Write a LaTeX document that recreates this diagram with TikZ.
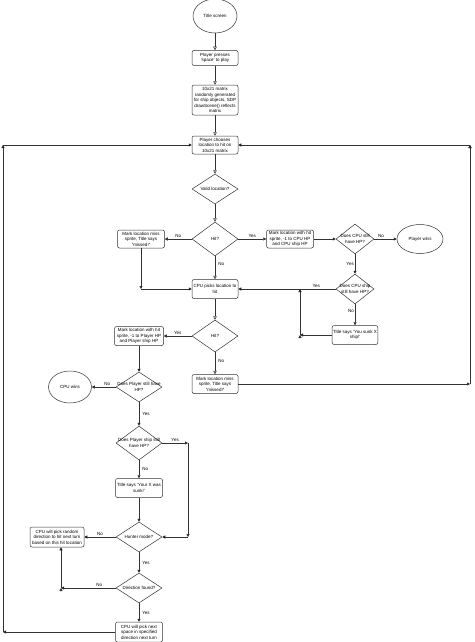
\documentclass[tikz,border=0pt]{standalone}
\usepackage{fontspec}
\setmainfont{Liberation Sans}
\usetikzlibrary{shapes.geometric,arrows.meta}
\newcommand\tinyfont{\fontsize{4.5}{5.4}\selectfont}

\begin{document}
\begin{tikzpicture}[x=1pt,y=-1pt,
  box/.style={draw=black!80,line width=0.5pt,rounded corners=2pt,minimum width=46pt,minimum height=18pt,inner sep=1pt,align=center,font=\tinyfont},
  dec/.style={diamond,draw=black!80,line width=0.5pt,minimum width=46pt,minimum height=30pt,inner sep=0pt,label={[font=\tinyfont,align=center,inner sep=0pt]center:#1}},
  term/.style={ellipse,draw=black!80,line width=0.5pt,minimum width=46pt,minimum height=30pt,inner sep=0pt,font=\tinyfont},
  arr/.style={-{Triangle[length=3pt,width=3pt]},draw=black!80,line width=0.5pt},
  oarr/.style={-{Triangle[open,length=3.5pt,width=3.5pt]},draw=black!80,line width=0.5pt},
  lbl/.style={font=\tinyfont,inner sep=1pt}]
\useasboundingbox (0,0) rectangle (474,642);
\fill[white] (0,0) rectangle (474,642);

\node[term,minimum width=44pt,minimum height=34pt] (title) at (215,16) {Title screen};
\node[box,minimum height=15pt] (press) at (215,58) {Player presses\\'space' to play};
\node[box,minimum height=30pt] (matrix) at (215,100) {10x21 matrix\\randomly generated\\for ship objects, SDP\\drawScene() reflects\\matrix};
\node[box] (choose) at (215,145) {Player chooses\\location to hit on\\10x21 matrix};

\node[dec={Valid location?}] (valid) at (215,189) {};
\node[dec={Hit?},minimum height=34pt] (hitA) at (215,239) {};
\node[box,minimum width=47pt] (missA) at (141,239) {Mark location miss\\sprite, Title says\\"missed!"};
\node[box,minimum width=47pt] (hitCpu) at (290,239) {Mark location with hit\\sprite, -1 to CPU HP\\and CPU ship HP};
\node[dec={Does CPU still\\have HP?},minimum width=38pt] (cpuHP) at (355,239) {};
\node[term,minimum height=29pt] (pwin) at (420,239) {Player wins};
\node[dec={Does CPU ship\\still have HP?},minimum width=38pt] (shipHP) at (355,289) {};
\node[box,minimum width=45pt,minimum height=19pt] (sunk) at (355,335) {Title says 'You sunk X\\ship!'};

\node[box,minimum height=19pt] (cpuPick) at (215,289) {CPU picks location to\\hit};
\node[dec={Hit?},minimum height=32pt] (hitB) at (215,336) {};
\node[box,minimum width=49pt,minimum height=19pt] (hitPl) at (139,336) {Mark location with hit\\sprite, -1 to Player HP\\and Player ship HP};
\node[box,minimum height=19pt] (missB) at (215,384) {Mark location miss\\sprite, Title says\\"missed!"};

\node[dec={Does Player still have\\HP?}] (plHP) at (139,387) {};
\node[term,minimum width=43pt,minimum height=32pt] (cpuwin) at (70,387) {CPU wins};
\node[dec={Does Player ship still\\have HP?},minimum height=34pt] (plShip) at (139,443) {};
\node[box,minimum width=47pt,minimum height=19pt] (sunkPl) at (139,488) {Title says 'Your X was\\sunk!'};
\node[dec={Hunter mode?}] (hunter) at (139,537) {};
\node[box,minimum width=54pt,minimum height=20pt] (random) at (57,537) {CPU will pick random\\direction to hit next turn\\based on this hit location};
\node[dec={Direction found?}] (dirFound) at (139,588) {};
\node[box,minimum width=47pt,minimum height=20pt] (nextSp) at (139,632) {CPU will pick next\\space in specified\\direction next turn};

\coordinate (c1) at (141,289);
\coordinate (s1) at (300,335);
\coordinate (s2) at (300,289);
\coordinate (y1) at (188,443);
\coordinate (y2) at (188,537);
\coordinate (d1) at (61,588);
\coordinate (d2) at (d1 |- random.south);
\coordinate (l1) at (3,632);
\coordinate (l2) at (3,145);
\coordinate (r1) at (470,384);
\coordinate (r2) at (470,145);

\draw [oarr] (title) edge (press) (press) edge (matrix) (matrix) edge (choose) (choose) edge (valid)
	(valid) edge (hitA) (hitA) edge node[lbl,right,pos=0.35,xshift=2pt] {No} (cpuPick)
	(cpuPick) edge (hitB) (hitB) edge node[lbl,right,pos=0.4,xshift=2pt] {No} (missB);

\draw [arr] (hitA) edge node[lbl,above] {No} (missA) (hitA) edge node[lbl,above] {Yes} (hitCpu)
	(missA) edge (c1) (c1) edge (cpuPick) (hitCpu) edge (cpuHP)
	(cpuHP) edge node[lbl,above,pos=0.3] {No} (pwin) (cpuHP) edge node[lbl,left] {Yes} (shipHP)
	(shipHP) edge node[lbl,above,pos=0.2] {Yes} (cpuPick) (shipHP) edge node[lbl,left,pos=0.3] {No} (sunk)
	(sunk) edge (s1) (s1) edge (s2);

\draw [arr] (hitB) edge node[lbl,above] {Yes} (hitPl) (hitPl) edge (plHP)
	(plHP) edge node[lbl,above,pos=0.35] {No} (cpuwin) (plHP) edge node[lbl,right,xshift=2pt] {Yes} (plShip)
	(plShip) edge node[lbl,above] {Yes} (y1) (y1) edge (y2) (y2) edge (hunter)
	(plShip) edge node[lbl,right,xshift=2pt] {No} (sunkPl) (sunkPl) edge (hunter)
	(hunter) edge node[lbl,above] {No} (random) (hunter) edge node[lbl,right,xshift=2pt] {Yes} (dirFound)
	(dirFound) edge node[lbl,above,pos=0.3] {No} (d1) (d1) edge (d2)
	(dirFound) edge node[lbl,right,xshift=2pt] {Yes} (nextSp);

\draw [arr] (nextSp) edge (l1) (l1) edge (l2) (l2) edge (choose)
	(missB) edge (r1) (r1) edge (r2) (r2) edge (choose);
\end{tikzpicture}
\end{document}
